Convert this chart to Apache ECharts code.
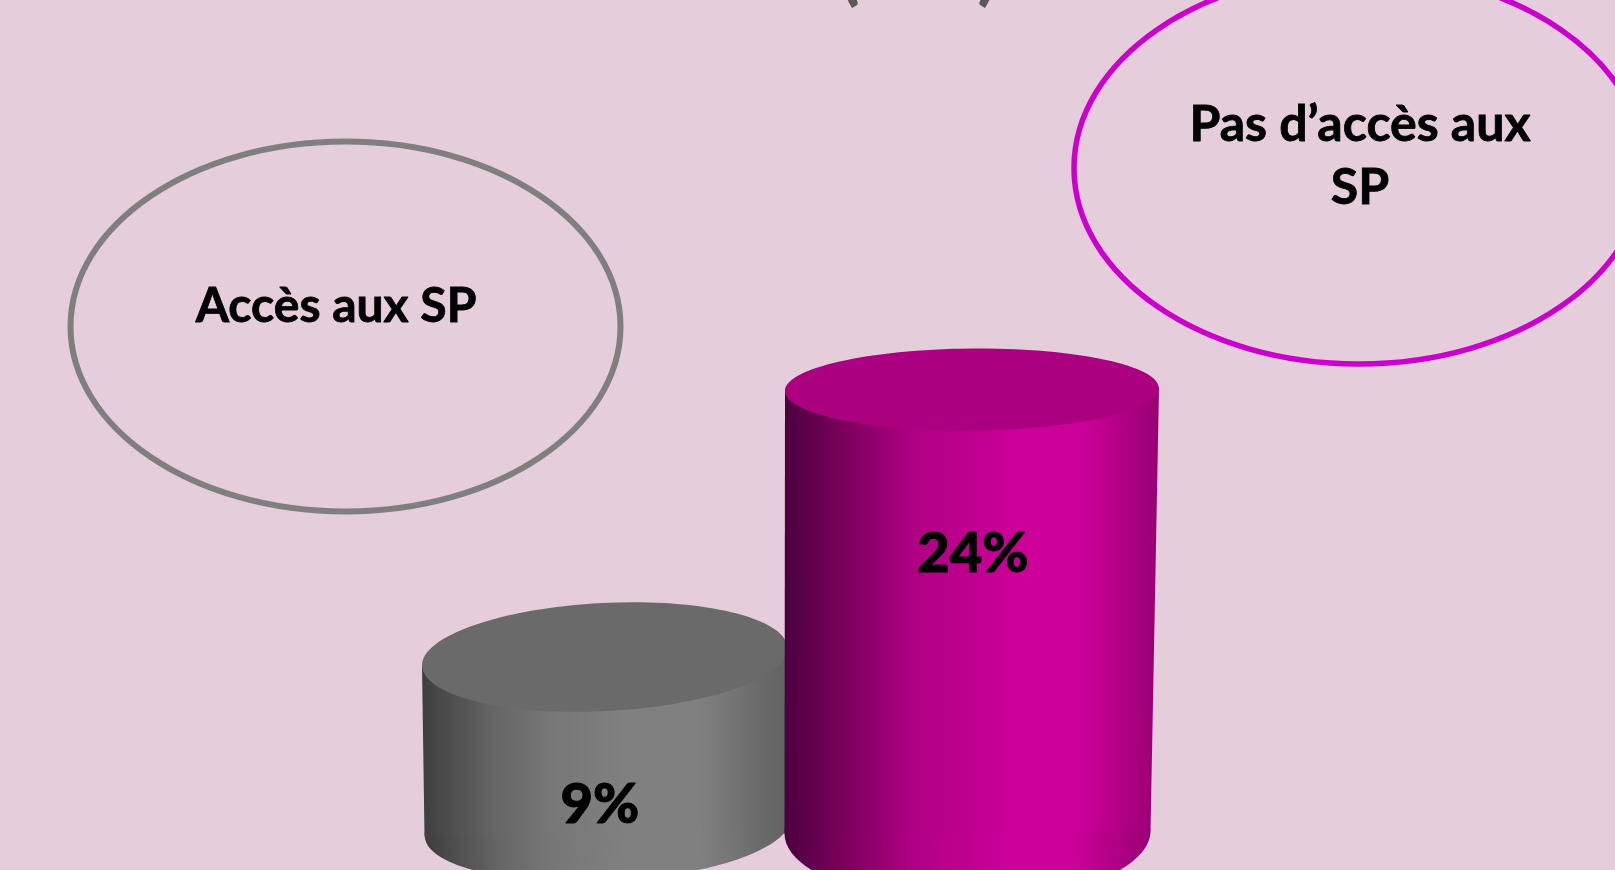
<!DOCTYPE html>
<html>
<head>
<meta charset="utf-8">
<style>html,body{margin:0;padding:0;background:#e6cddb}#chart{width:1615px;height:870px}</style>
<script src="https://cdn.jsdelivr.net/npm/echarts@6/dist/echarts.min.js"></script>
</head>
<body>
<div id="chart"></div>
<script>
const categories = ['Accès aux SP', 'Pas d’accès aux SP'];
const values = [9, 24];
const calloutLines = [['Accès aux SP'], ['Pas d’accès aux', 'SP']];

// Value at which each percentage label sits on its cylinder, plus a small sideways nudge.
const labelAnchor = [4.0, 17.4];
const labelNudge = [-5, 1];

const sideStops = [
  [[0, '#3e3e3e'], [0.2, '#666666'], [0.35, '#777777'], [0.55, '#808080'], [0.75, '#808080'], [1, '#606060']],
  [[0, '#4c0040'], [0.176, '#800060'], [0.34, '#ae0083'], [0.615, '#cc0099'], [0.79, '#cc0099'], [1, '#990073']]
];
const capColors = ['#6a6a6a', '#ab007f'];
const FONT = 'Lato';

function gradient(stops) {
  return new echarts.graphic.LinearGradient(0, 0, 1, 0,
    stops.map(function (s) { return { offset: s[0], color: s[1] }; }));
}

// The axis value marks the front rim of a cylinder's cap; cap shape widens lower in the view.
function capShape(frontY) {
  const t = (frontY - 430) / 280;
  return { t: t, ry: 41 + 13 * t, rx: 187 - 4 * t, tilt: 0.008 + 0.042 * t };
}

function renderCylinder(params, api) {
  const i = api.value(0);
  const v = api.value(1);
  const top = api.coord([i, v]);
  const base = api.coord([i, 0]);
  const cap = capShape(top[1]);
  const topY = top[1] - cap.ry;
  const cx = top[0];
  const baseY = base[1] - 47 - 5 * cap.t;
  const baseRy = 70 - 16 * cap.t;
  const baseCx = cx - 4.5 + 7 * cap.t;
  const baseRx = 183;
  const fill = gradient(sideStops[i]);
  const lift = Math.sin(cap.tilt) * cap.rx;
  const baseLift = Math.sin(cap.tilt) * baseRx;
  const anchor = api.coord([i, labelAnchor[i]]);
  return {
    type: 'group',
    children: [
      {
        type: 'ellipse',
        shape: { cx: baseCx, cy: baseY, rx: baseRx, ry: baseRy },
        rotation: cap.tilt, originX: baseCx, originY: baseY,
        style: { fill: fill }
      },
      {
        type: 'polygon',
        shape: { points: [
          [cx - cap.rx, topY + lift],
          [cx + cap.rx, topY - lift],
          [baseCx + baseRx, baseY - baseLift],
          [baseCx - baseRx, baseY + baseLift]
        ] },
        style: { fill: fill }
      },
      {
        type: 'ellipse',
        shape: { cx: cx, cy: topY, rx: cap.rx, ry: cap.ry },
        rotation: cap.tilt, originX: cx, originY: topY,
        style: { fill: capColors[i] }
      },
      {
        type: 'text',
        z2: 5,
        style: {
          x: anchor[0] + labelNudge[i], y: anchor[1],
          text: v + '%',
          font: '900 56px ' + FONT,
          fill: '#000000', stroke: '#000000', lineWidth: 1,
          align: 'center', verticalAlign: 'middle'
        }
      }
    ]
  };
}

const calloutStyle = {
  fill: '#000', stroke: '#000', lineWidth: 0.8,
  align: 'center', verticalAlign: 'middle', lineHeight: 63
};
const parenStyle = {
  font: '700 64px ' + FONT, fill: '#595959', stroke: '#595959', lineWidth: 1.5,
  align: 'center', verticalAlign: 'bottom'
};

const chart = echarts.init(document.getElementById('chart'), null, { renderer: 'canvas' });
chart.setOption({
  backgroundColor: '#e6cddb',
  animation: false,
  grid: { left: 421.5, width: 734, top: 0.4, height: 878.9, outerBoundsMode: 'none' },
  xAxis: { type: 'category', data: categories, show: false },
  yAxis: { type: 'value', min: 0, max: 47, show: false },
  series: [{
    type: 'custom',
    clip: false,
    renderItem: renderCylinder,
    encode: { x: 0, y: 1 },
    data: values.map(function (v, i) { return [i, v]; })
  }],
  graphic: [
    { type: 'text', x: 850, y: 8, style: Object.assign({ text: '(' }, parenStyle) },
    { type: 'text', x: 987, y: 8, style: Object.assign({ text: ')' }, parenStyle) },
    { type: 'ellipse', shape: { cx: 345.5, cy: 326.5, rx: 275, ry: 185 }, style: { fill: 'none', stroke: '#7f7f7f', lineWidth: 6 } },
    { type: 'ellipse', shape: { cx: 1359, cy: 168, rx: 285, ry: 196 }, style: { fill: 'none', stroke: '#cc00cc', lineWidth: 5.5 } },
    { type: 'text', x: 336, y: 307, style: Object.assign({ text: calloutLines[0].join('\n'), font: '700 48px ' + FONT }, calloutStyle) },
    { type: 'text', x: 1360, y: 156, style: Object.assign({ text: calloutLines[1].join('\n'), font: '700 50px ' + FONT }, calloutStyle) }
  ]
});
</script>
</body>
</html>
